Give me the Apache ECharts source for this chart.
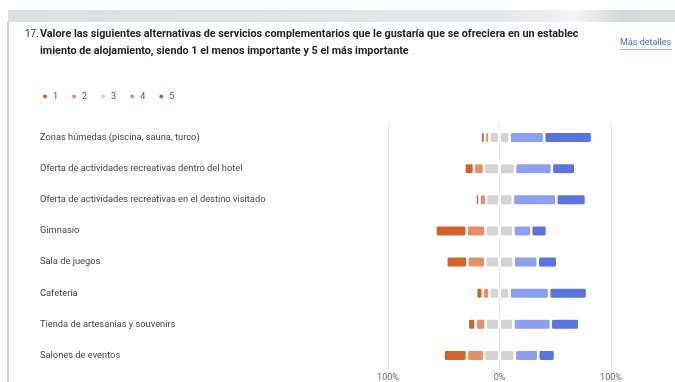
<!DOCTYPE html>
<html>
<head>
<meta charset="utf-8">
<script src="https://cdn.jsdelivr.net/npm/echarts@6/dist/echarts.min.js"></script>
<style>html,body{margin:0;padding:0;background:#fff;}#c{width:675px;height:382px;}</style>
</head>
<body>
<div id="c"></div>
<script>
var categories = ['Zonas húmedas (piscina, sauna, turco)', 'Oferta de actividades recreativas dentro del hotel', 'Oferta de actividades recreativas en el destino visitado', 'Gimnasio', 'Sala de juegos', 'Cafetería', 'Tienda de artesanías y souvenirs', 'Salones de eventos'];
var legendNames = ['1', '2', '3', '4', '5'];
var v1 = [4, 8.5, 3.5, 28, 19, 6, 7, 21];
var v2 = [4, 9, 6, 17, 16, 6, 9, 15.5];
var v3 = [18, 28, 24, 25, 25.5, 18, 25, 27.5];
var v4 = [31, 33, 39, 16, 21.5, 35.5, 33.5, 21];
var v5 = [43, 21, 26.5, 14, 17.5, 34, 25.5, 15];
var axisTicks = [-100, 0, 100];

var colors = ['#D2642B', '#E3906A', '#D3D3D3', '#8DA0F0', '#5A74E2'];
var font = 'Roboto, "Noto Sans", sans-serif';

function neg(a) { return a.map(function (x) { return -x; }); }
function half(a, s) { return a.map(function (x) { return s * x / 2; }); }

function bar(name, data, color) {
  return {
    name: name, type: 'bar', stack: 'all', data: data, barWidth: 11.5,
    itemStyle: { color: color, borderColor: '#fff', borderWidth: 1.25, borderRadius: 2 },
    emphasis: { disabled: true }
  };
}

var chart = echarts.init(document.getElementById('c'), null, { renderer: 'canvas' });
chart.setOption({
  animation: false,
  color: colors,
  title: [
    { text: '17.', left: 25, top: 25.5, padding: 0, textStyle: { fontFamily: font, fontSize: 10, fontWeight: 'normal', color: '#333', lineHeight: 17 } },
    { text: 'Valore las siguientes alternativas de servicios complementarios que le gustaría que se ofreciera en un establec\nimiento de alojamiento, siendo 1 el menos importante y 5 el más importante',
      left: 40, top: 25.5, padding: 0, textStyle: { fontFamily: font, fontSize: 10.8, fontWeight: 'bold', color: '#252525', lineHeight: 17 } }
  ],
  legend: {
    data: legendNames, left: 41, top: 92, padding: 0, icon: 'circle', itemWidth: 6, itemHeight: 6, itemGap: 12,
    textStyle: { fontFamily: font, fontSize: 9, color: '#555' }, selectedMode: false
  },
  grid: { left: 388, right: 64, top: 122, bottom: 8.6, containLabel: false },
  xAxis: {
    type: 'value', min: axisTicks[0], max: axisTicks[2], interval: 100,
    axisLine: { show: false }, axisTick: { show: false },
    splitLine: { show: true, lineStyle: { color: '#e9e9e9', width: 1 } },
    axisLabel: { margin: 2, fontFamily: font, fontSize: 9, color: '#666',
      formatter: function (v) { return Math.abs(v) + '%'; } }
  },
  yAxis: {
    type: 'category', data: categories, inverse: true,
    axisLine: { show: false }, axisTick: { show: false },
    axisLabel: { align: 'left', margin: 348, fontFamily: font, fontSize: 9.3, color: '#444' }
  },
  series: [
    bar('3', half(v3, -1), colors[2]),
    bar('3', half(v3, 1), colors[2]),
    bar('2', neg(v2), colors[1]),
    bar('4', v4, colors[3]),
    bar('1', neg(v1), colors[0]),
    bar('5', v5, colors[4])
  ],
  graphic: [
    { type: 'rect', shape: { x: 8, y: 10, width: 667, height: 12 }, silent: true,
      style: { fill: new echarts.graphic.LinearGradient(0, 0, 1, 0, [
        { offset: 0, color: '#d9dfe4' }, { offset: 0.75, color: '#e2e7eb' }, { offset: 0.85, color: '#f2f4f6' }, { offset: 0.92, color: '#d3d9de' }, { offset: 1, color: '#d8dde2' }]) } },
    { type: 'rect', shape: { x: 7, y: 22, width: 2, height: 360 }, silent: true, style: { fill: '#cfd3d6' } },
    { type: 'text', left: 620, top: 38, style: { text: 'Más detalles', fontFamily: font, fontSize: 9, fill: '#4a6fd0' } },
    { type: 'rect', shape: { x: 620, y: 49, width: 52, height: 0.8 }, silent: true, style: { fill: '#7e97dc' } }
  ]
});
</script>
</body>
</html>
